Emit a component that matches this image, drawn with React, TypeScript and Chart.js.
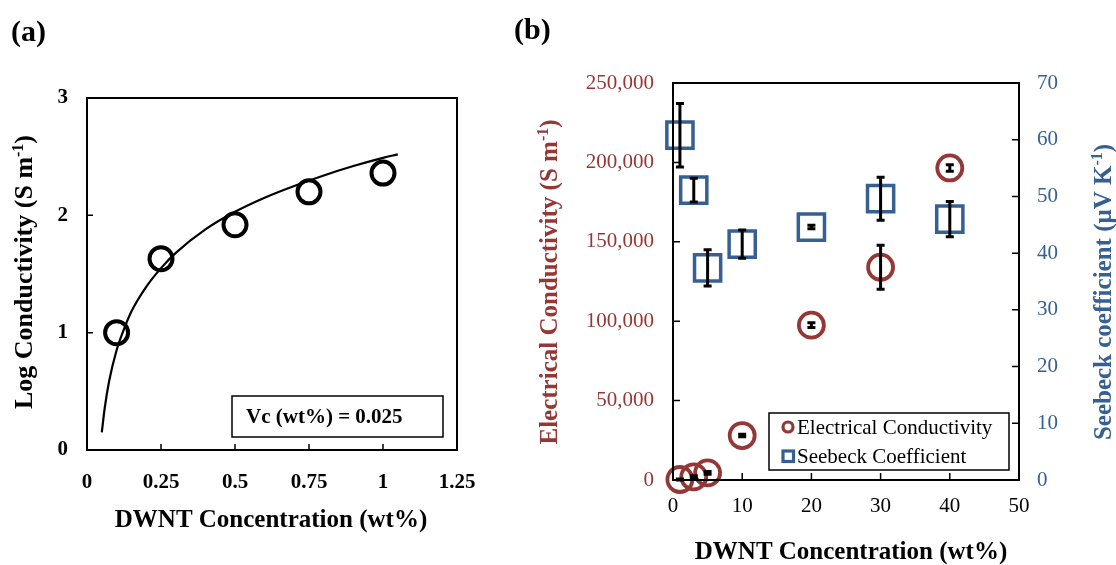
import React, { useEffect, useRef } from "react";
import { Chart, registerables } from "chart.js";
Chart.register(...registerables);

const FONT = '"Liberation Serif", "Times New Roman", Times, serif';
const RED = "#953735";
const BLUE = "#376092";

// ---------- Panel (a) data ----------
const aConc = [0.1, 0.25, 0.5, 0.75, 1.0];
const aLogCond = [1.0, 1.63, 1.92, 2.2, 2.36];
const aFitConc = [0.05, 0.06, 0.075, 0.1, 0.125, 0.15, 0.2, 0.25, 0.3, 0.4, 0.5, 0.6, 0.7, 0.8, 0.9, 1.0, 1.05];
const aFitLog = [0.15, 0.36, 0.59, 0.85, 1.03, 1.18, 1.39, 1.55, 1.68, 1.88, 2.03, 2.15, 2.25, 2.34, 2.42, 2.49, 2.52];
const aXTicks = [0, 0.25, 0.5, 0.75, 1, 1.25];
const aYTicks = [0, 1, 2, 3];
const aNote = "Vc (wt%) = 0.025";

// ---------- Panel (b) data ----------
const bConc = [1, 3, 5, 10, 20, 30, 40];
const bCond = [300, 2000, 4500, 28000, 97500, 134000, 196500];
const bCondErr = [300, 600, 900, 800, 1500, 13900, 2000];
const bSeebeck = [60.8, 51.1, 37.4, 41.6, 44.6, 49.6, 46.0];
const bSeebeckErr = [5.6, 2.1, 3.2, 2.5, 0.3, 3.8, 3.1];
const bXTicks = [0, 10, 20, 30, 40, 50];
const bLeftTicks = [0, 50000, 100000, 150000, 200000, 250000];
const bRightTicks = [0, 10, 20, 30, 40, 50, 60, 70];
const bLegend = ["Electrical Conductivity", "Seebeck Coefficient"];

type Seg = { t: string; sup?: boolean };

function drawRich(ctx: CanvasRenderingContext2D, segs: Seg[], cx: number, cy: number, size: number, color: string, rotate: number) {
  ctx.save();
  ctx.translate(cx, cy);
  if (rotate) ctx.rotate(rotate);
  const main = `bold ${size}px ${FONT}`;
  const sm = `bold ${Math.round(size * 0.62)}px ${FONT}`;
  let total = 0;
  const widths = segs.map((s) => {
    ctx.font = s.sup ? sm : main;
    const w = ctx.measureText(s.t).width;
    total += w;
    return w;
  });
  let x = -total / 2;
  ctx.fillStyle = color;
  ctx.textAlign = "left";
  ctx.textBaseline = "alphabetic";
  segs.forEach((s, i) => {
    ctx.font = s.sup ? sm : main;
    ctx.fillText(s.t, x, s.sup ? size * 0.35 - size * 0.36 : size * 0.35);
    x += widths[i];
  });
  ctx.restore();
}

function drawBox(chart: any) {
  const { ctx, chartArea: a } = chart;
  ctx.save();
  ctx.strokeStyle = "#000";
  ctx.lineWidth = 2;
  ctx.strokeRect(a.left, a.top, a.right - a.left, a.bottom - a.top);
  ctx.restore();
}

function drawInsideTicks(chart: any, scaleId: string, values: number[], side: "left" | "right" | "bottom", len: number) {
  const { ctx, chartArea: a } = chart;
  const s = chart.scales[scaleId];
  ctx.save();
  ctx.strokeStyle = "#000";
  ctx.lineWidth = 1.5;
  ctx.beginPath();
  values.forEach((v) => {
    const p = s.getPixelForValue(v);
    if (side === "bottom") {
      ctx.moveTo(p, a.bottom);
      ctx.lineTo(p, a.bottom - len);
    } else if (side === "left") {
      ctx.moveTo(a.left, p);
      ctx.lineTo(a.left + len, p);
    } else {
      ctx.moveTo(a.right, p);
      ctx.lineTo(a.right - len, p);
    }
  });
  ctx.stroke();
  ctx.restore();
}

function drawErrorBars(chart: any, yId: string, xs: number[], ys: number[], errs: number[]) {
  const { ctx } = chart;
  const sx = chart.scales.x;
  const sy = chart.scales[yId];
  ctx.save();
  ctx.strokeStyle = "#000";
  ctx.lineWidth = 3;
  xs.forEach((xv, i) => {
    const px = sx.getPixelForValue(xv);
    const top = sy.getPixelForValue(ys[i] + errs[i]);
    const bot = sy.getPixelForValue(ys[i] - errs[i]);
    ctx.beginPath();
    ctx.moveTo(px, top);
    ctx.lineTo(px, bot);
    ctx.moveTo(px - 4, top);
    ctx.lineTo(px + 4, top);
    ctx.moveTo(px - 4, bot);
    ctx.lineTo(px + 4, bot);
    ctx.stroke();
  });
  ctx.restore();
}

const panelAPlugin = {
  id: "panelA",
  afterDraw(chart: any) {
    const { ctx } = chart;
    drawBox(chart);
    drawInsideTicks(chart, "x", aXTicks.slice(1, -1), "bottom", 6);
    drawInsideTicks(chart, "y", aYTicks.slice(1, -1), "left", 6);
    // note box
    ctx.save();
    ctx.fillStyle = "#fff";
    ctx.fillRect(232, 396, 211, 41);
    ctx.strokeStyle = "#000";
    ctx.lineWidth = 1.5;
    ctx.strokeRect(232, 396, 211, 41);
    ctx.fillStyle = "#000";
    ctx.font = `bold 21px ${FONT}`;
    ctx.textAlign = "left";
    ctx.textBaseline = "middle";
    ctx.fillText(aNote, 246, 418);
    // panel label
    ctx.font = `bold 30px ${FONT}`;
    ctx.fillText("(a)", 11, 33);
    ctx.restore();
    drawRich(ctx, [{ t: "DWNT Concentration (wt%)" }], 271, 518, 25, "#000", 0);
    drawRich(ctx, [{ t: "Log Conductivity (S m" }, { t: "-1", sup: true }, { t: ")" }], 23, 272, 26, "#000", -Math.PI / 2);
  },
};

const panelBPlugin = {
  id: "panelB",
  afterDatasetsDraw(chart: any) {
    drawErrorBars(chart, "y", bConc, bCond, bCondErr);
    drawErrorBars(chart, "y1", bConc, bSeebeck, bSeebeckErr);
  },
  afterDraw(chart: any) {
    const { ctx } = chart;
    drawBox(chart);
    drawInsideTicks(chart, "x", bXTicks.slice(1, -1), "bottom", 7);
    drawInsideTicks(chart, "y", bLeftTicks.slice(1, -1), "left", 7);
    drawInsideTicks(chart, "y1", bRightTicks.slice(1, -1), "right", 7);
    // legend
    ctx.save();
    ctx.fillStyle = "#fff";
    ctx.fillRect(269, 413, 240, 57);
    ctx.strokeStyle = "#000";
    ctx.lineWidth = 1.5;
    ctx.strokeRect(269, 413, 240, 57);
    ctx.lineWidth = 3.2;
    ctx.strokeStyle = RED;
    ctx.beginPath();
    ctx.arc(288, 427, 5, 0, Math.PI * 2);
    ctx.stroke();
    ctx.strokeStyle = BLUE;
    ctx.strokeRect(283, 451, 10.5, 10.5);
    ctx.fillStyle = "#000";
    ctx.font = `21px ${FONT}`;
    ctx.textAlign = "left";
    ctx.textBaseline = "middle";
    ctx.fillText(bLegend[0], 297, 428);
    ctx.fillText(bLegend[1], 297, 457);
    // panel label
    ctx.font = `bold 30px ${FONT}`;
    ctx.fillText("(b)", 14, 31);
    ctx.restore();
    drawRich(ctx, [{ t: "DWNT Concentration (wt%)" }], 351, 550, 25, "#000", 0);
    drawRich(ctx, [{ t: "Electrical Conductivity (S m" }, { t: "-1", sup: true }, { t: ")" }], 48, 282, 25, RED, -Math.PI / 2);
    drawRich(ctx, [{ t: "Seebeck coefficient (\u03BCV K" }, { t: "-1", sup: true }, { t: ")" }], 602, 292, 25, BLUE, -Math.PI / 2);
  },
};

function PanelA() {
  const ref = useRef<HTMLCanvasElement>(null);
  useEffect(() => {
    const chart = new Chart(ref.current as HTMLCanvasElement, {
      type: "scatter",
      data: {
        datasets: [
          {
            type: "line",
            data: aFitConc.map((x, i) => ({ x, y: aFitLog[i] })),
            borderColor: "#000",
            borderWidth: 2.2,
            pointRadius: 0,
            cubicInterpolationMode: "monotone",
            fill: false,
            clip: false,
          } as any,
          {
            data: aConc.map((x, i) => ({ x, y: aLogCond[i] })),
            pointStyle: "circle",
            pointRadius: 11.5,
            pointHoverRadius: 11.5,
            borderWidth: 4,
            borderColor: "#000",
            backgroundColor: "rgba(0,0,0,0)",
            clip: false,
          } as any,
        ],
      },
      options: {
        responsive: false,
        animation: false,
        events: [],
        layout: { padding: { top: 98, right: 43, left: 0, bottom: 0 } },
        plugins: { legend: { display: false }, tooltip: { enabled: false } },
        scales: {
          x: {
            type: "linear",
            min: 0,
            max: 1.25,
            grid: { display: false, drawTicks: false },
            border: { display: false },
            ticks: { autoSkip: false, maxRotation: 0, color: "#000", padding: 20, font: { family: FONT, size: 21, weight: "bold" }, callback: (v: any) => String(v) },
            afterBuildTicks: (s: any) => { s.ticks = aXTicks.map((value) => ({ value })); },
            afterFit: (s: any) => { s.height = 115; },
          },
          y: {
            type: "linear",
            min: 0,
            max: 3,
            grid: { display: false, drawTicks: false },
            border: { display: false },
            ticks: { autoSkip: false, color: "#000", padding: 19, font: { family: FONT, size: 21, weight: "bold" }, callback: (v: any) => String(v) },
            afterBuildTicks: (s: any) => { s.ticks = aYTicks.map((value) => ({ value })); },
            afterFit: (s: any) => { s.width = 87; },
          },
        },
      } as any,
      plugins: [panelAPlugin],
    });
    return () => chart.destroy();
  }, []);
  return <canvas ref={ref} width={500} height={565} style={{ position: "absolute", left: 0, top: 0, width: 500, height: 565 }} />;
}

function PanelB() {
  const ref = useRef<HTMLCanvasElement>(null);
  useEffect(() => {
    const chart = new Chart(ref.current as HTMLCanvasElement, {
      type: "scatter",
      data: {
        datasets: [
          {
            data: bConc.map((x, i) => ({ x, y: bCond[i] })),
            yAxisID: "y",
            pointStyle: "circle",
            pointRadius: 12.5,
            pointHoverRadius: 12.5,
            borderWidth: 3.8,
            borderColor: RED,
            backgroundColor: "rgba(0,0,0,0)",
            clip: false,
          } as any,
          {
            data: bConc.map((x, i) => ({ x, y: bSeebeck[i] })),
            yAxisID: "y1",
            pointStyle: "rect",
            pointRadius: 18.5,
            pointHoverRadius: 18.5,
            borderWidth: 3.5,
            borderColor: BLUE,
            backgroundColor: "rgba(0,0,0,0)",
            clip: false,
          } as any,
        ],
      },
      options: {
        responsive: false,
        animation: false,
        events: [],
        layout: { padding: { top: 83, right: 0, left: 0, bottom: 0 } },
        plugins: { legend: { display: false }, tooltip: { enabled: false } },
        scales: {
          x: {
            type: "linear",
            min: 0,
            max: 50,
            grid: { display: false, drawTicks: false },
            border: { display: false },
            ticks: { autoSkip: false, maxRotation: 0, color: "#000", padding: 14, font: { family: FONT, size: 21 }, callback: (v: any) => String(v) },
            afterBuildTicks: (s: any) => { s.ticks = bXTicks.map((value) => ({ value })); },
            afterFit: (s: any) => { s.height = 85; },
          },
          y: {
            type: "linear",
            position: "left",
            min: 0,
            max: 250000,
            grid: { display: false, drawTicks: false },
            border: { display: false },
            ticks: { autoSkip: false, color: RED, padding: 19, font: { family: FONT, size: 21 }, callback: (v: any) => Number(v).toLocaleString("en-US") },
            afterBuildTicks: (s: any) => { s.ticks = bLeftTicks.map((value) => ({ value })); },
            afterFit: (s: any) => { s.width = 173; },
          },
          y1: {
            type: "linear",
            position: "right",
            min: 0,
            max: 70,
            grid: { display: false, drawTicks: false },
            border: { display: false },
            ticks: { autoSkip: false, color: BLUE, padding: 18, font: { family: FONT, size: 21 }, callback: (v: any) => String(v) },
            afterBuildTicks: (s: any) => { s.ticks = bRightTicks.map((value) => ({ value })); },
            afterFit: (s: any) => { s.width = 97; },
          },
        },
      } as any,
      plugins: [panelBPlugin],
    });
    return () => chart.destroy();
  }, []);
  return <canvas ref={ref} width={616} height={565} style={{ position: "absolute", left: 500, top: 0, width: 616, height: 565 }} />;
}

export default function App() {
  return (
    <div style={{ position: "fixed", left: 0, top: 0, width: 1116, height: 565, background: "#fff", overflow: "hidden" }}>
      <PanelA />
      <PanelB />
    </div>
  );
}
